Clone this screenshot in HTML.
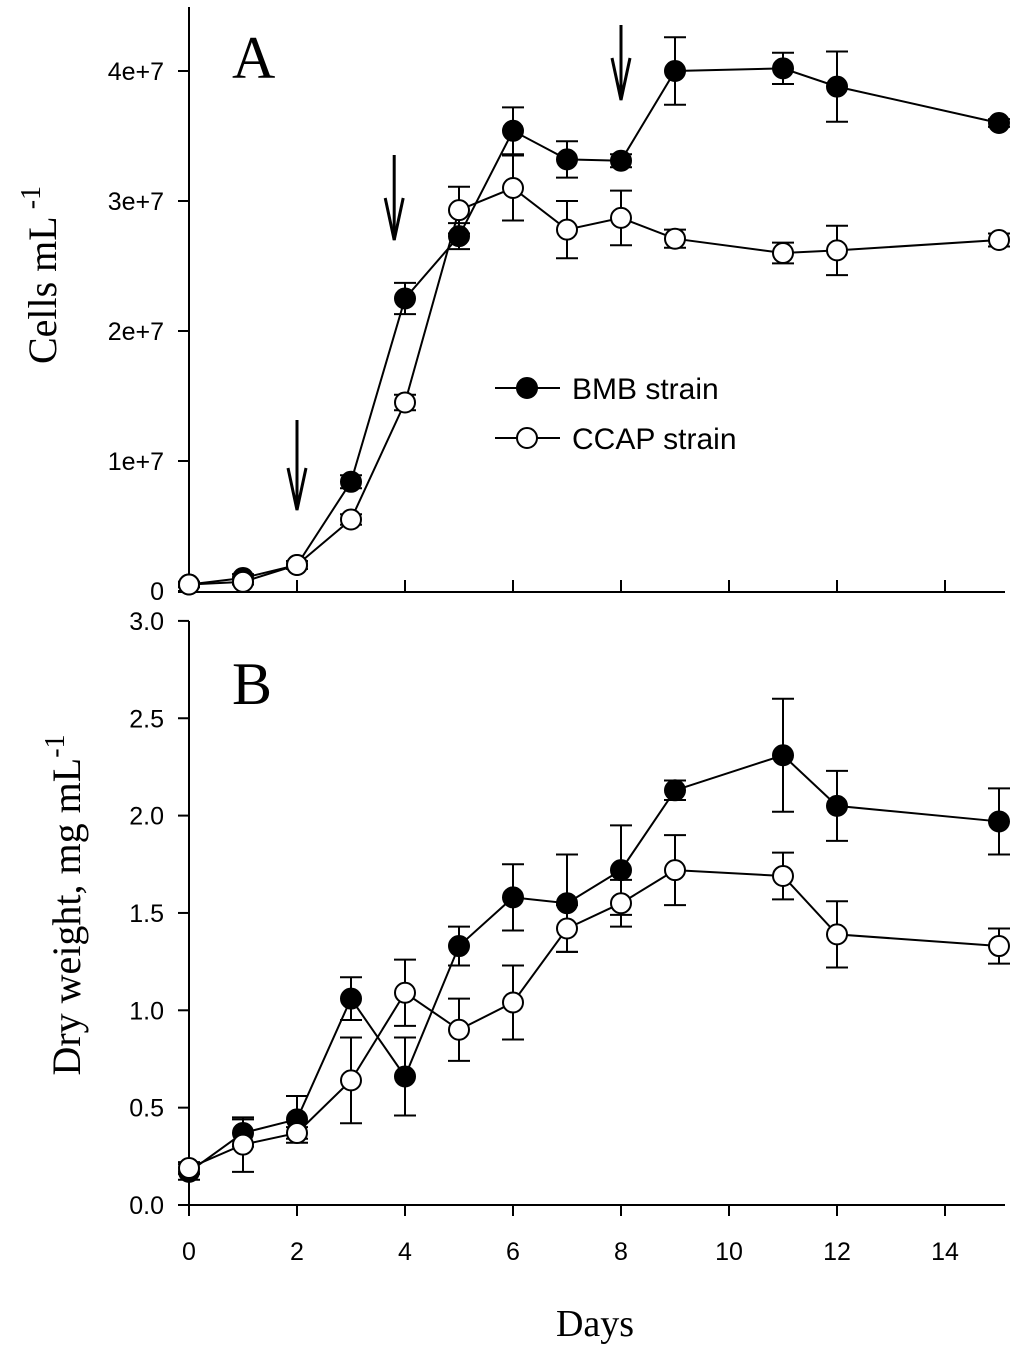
<!DOCTYPE html>
<html><head><meta charset="utf-8"><style>
body{margin:0;background:#fff}
svg text{font-family:"Liberation Sans",sans-serif}
.serif{font-family:"Liberation Serif",serif}
</style></head><body>
<svg width="1024" height="1348" viewBox="0 0 1024 1348" xmlns="http://www.w3.org/2000/svg">
<g id="root" stroke="#000" fill="none" stroke-width="2"></g>
</svg>
<script>
const days=[0,1,2,3,4,5,6,7,8,9,11,12,15];
const cellsBMB=[0.05,0.1,0.2,0.84,2.25,2.73,3.54,3.32,3.31,4.0,4.02,3.88,3.6];
const cellsBMBErr=[0.02,0.03,0.03,0.05,0.12,0.1,0.18,0.14,0.05,0.26,0.12,0.27,0.03];
const cellsCCAP=[0.05,0.07,0.2,0.55,1.45,2.93,3.1,2.78,2.87,2.71,2.6,2.62,2.7];
const cellsCCAPErr=[0.02,0.02,0.03,0.04,0.06,0.18,0.25,0.22,0.21,0.07,0.08,0.19,0.05];
const dwBMB=[0.17,0.37,0.44,1.06,0.66,1.33,1.58,1.55,1.72,2.13,2.31,2.05,1.97];
const dwBMBErr=[0.04,0.07,0.12,0.11,0.2,0.1,0.17,0.25,0.23,0.05,0.29,0.18,0.17];
const dwCCAP=[0.19,0.31,0.37,0.64,1.09,0.90,1.04,1.42,1.55,1.72,1.69,1.39,1.33];
const dwCCAPErr=[0.03,0.14,0.03,0.22,0.17,0.16,0.19,0.12,0.12,0.18,0.12,0.17,0.09];
const xTicks=[0,2,4,6,8,10,12,14];
const aTicks=[0,1,2,3,4];
const aTickLabels=["0","1e+7","2e+7","3e+7","4e+7"];
const bTicks=[0,0.5,1,1.5,2,2.5,3];
const arrowDays=[2,3.8,8];

const NS="http://www.w3.org/2000/svg";
const root=document.getElementById('root');
const X=d=>189+54.0*d;
const YA=v=>591-130*v;
const YB=v=>1205-194.7*v;
function el(tag,attrs,parent){const e=document.createElementNS(NS,tag);for(const k in attrs)e.setAttribute(k,attrs[k]);(parent||root).appendChild(e);return e;}
function txt(s,attrs){const t=el('text',Object.assign({stroke:'none',fill:'#000'},attrs));t.textContent=s;return t;}

let g=el('g',{});


el('line',{x1:189,y1:7,x2:189,y2:592},g);
el('line',{x1:178,y1:592,x2:1005,y2:592},g);
aTicks.forEach((v,i)=>{el('line',{x1:178,y1:YA(v),x2:189,y2:YA(v)},g);
const t=txt(aTickLabels[i],{x:164,y:YA(v)+9,'text-anchor':'end','font-size':25});

});
xTicks.forEach(d=>{if(d>0)el('line',{x1:X(d),y1:580,x2:X(d),y2:592},g);});
g=el('g',{});


el('line',{x1:189,y1:621,x2:189,y2:1216},g);
el('line',{x1:178,y1:1205,x2:1005,y2:1205},g);
bTicks.forEach(v=>{el('line',{x1:178,y1:YB(v),x2:189,y2:YB(v)},g);
const t=txt(v.toFixed(1),{x:164,y:YB(v)+9,'text-anchor':'end','font-size':25});

});
xTicks.forEach(d=>{el('line',{x1:X(d),y1:1205,x2:X(d),y2:1216},g);
const t=txt(String(d),{x:X(d),y:1260,'text-anchor':'middle','font-size':25});

});

function series(vals,errs,Y,fill,name){
  const sg=el('g',{});
  
  
  el('polyline',{points:days.map((d,i)=>X(d)+','+Y(vals[i])).join(' ')},sg);
  days.forEach((d,i)=>{const x=X(d),y1=Y(vals[i]-errs[i]),y2=Y(vals[i]+errs[i]);
    el('line',{x1:x,y1:y1,x2:x,y2:y2},sg);
    el('line',{x1:x-11,y1:y1,x2:x+11,y2:y1},sg);
    el('line',{x1:x-11,y1:y2,x2:x+11,y2:y2},sg);});
  days.forEach((d,i)=>{const c=el('circle',{cx:X(d),cy:Y(vals[i]),r:10,fill:fill},sg);
    
    });
}
series(cellsBMB,cellsBMBErr,YA,'#000','bmb-cells');
series(cellsCCAP,cellsCCAPErr,YA,'#fff','ccap-cells');
series(dwBMB,dwBMBErr,YB,'#000','bmb-dry-weight');
series(dwCCAP,dwCCAPErr,YB,'#fff','ccap-dry-weight');

const arrowY=[[420,510],[155,240],[25,100]];
arrowDays.forEach((d,i)=>{const x=X(d),[a,b]=arrowY[i];const ag=el('g',{'stroke-width':3});


el('line',{x1:x,y1:a,x2:x,y2:b},ag);
el('polyline',{points:(x-9)+','+(b-42)+' '+x+','+b+' '+(x+9)+','+(b-42)},ag);});

const lg=el('g',{});


[['BMB strain','#000',388],['CCAP strain','#fff',438]].forEach(([s,f,y])=>{
el('line',{x1:495,y1:y,x2:560,y2:y},lg);
el('circle',{cx:527,cy:y,r:10,fill:f},lg);
const t=el('text',{x:572,y:y+11,'font-size':30,stroke:'none',fill:'#000'},lg);t.textContent=s;

});

let t;
t=txt('A',{x:232,y:78,'font-size':60,class:'serif'});

t=txt('B',{x:232,y:704,'font-size':60,class:'serif'});

t=txt('Days',{x:595,y:1336,'text-anchor':'middle','font-size':38,class:'serif'});

t=el('text',{transform:'translate(56,275) rotate(-90)','text-anchor':'middle','font-size':40,class:'serif',stroke:'none',fill:'#000'});
t.innerHTML='Cells mL<tspan dy="-16" font-size="28"> -1</tspan>';

t=el('text',{transform:'translate(80,905) rotate(-90)','text-anchor':'middle','font-size':40,class:'serif',stroke:'none',fill:'#000'});
t.innerHTML='Dry weight, mg mL<tspan dy="-16" font-size="28">-1</tspan>';

</script>
</body></html>
